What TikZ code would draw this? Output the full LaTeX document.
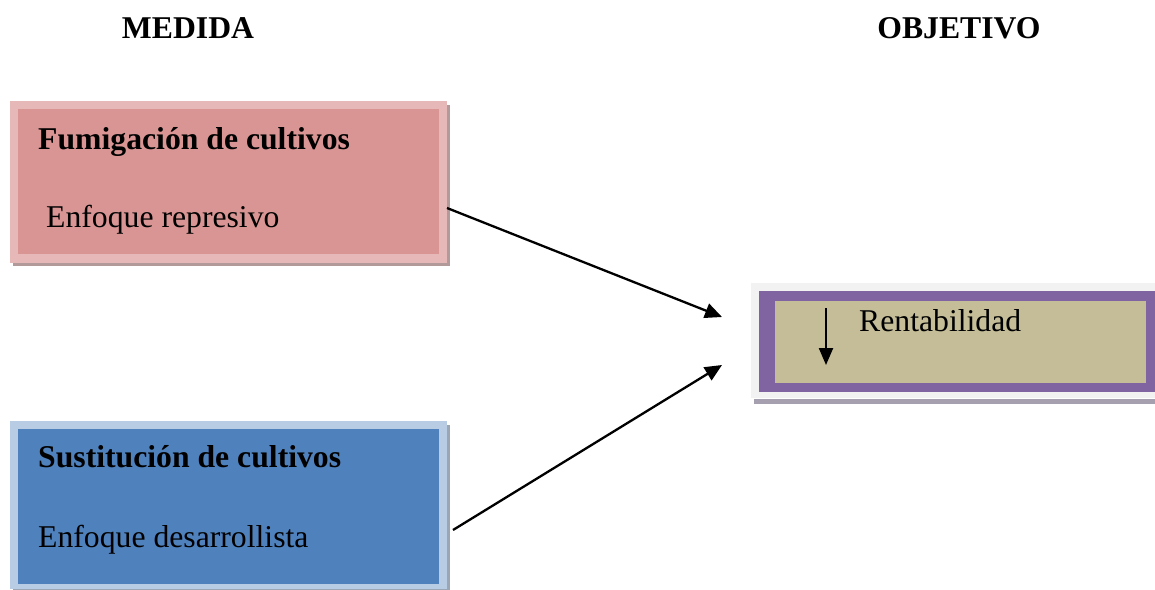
\documentclass[tikz,border=0pt]{standalone}
\usepackage{fontspec}
\setmainfont{Liberation Serif}
\usetikzlibrary{arrows.meta}
\definecolor{pinkout}{HTML}{E6B8B7}
\definecolor{pinkin}{HTML}{D99594}
\definecolor{pinkshadow}{HTML}{B39A9A}
\definecolor{blueout}{HTML}{B8CCE4}
\definecolor{bluein}{HTML}{4F81BD}
\definecolor{blueshadow}{HTML}{9AA6B4}
\definecolor{grayframe}{HTML}{F2F2F2}
\definecolor{purpleframe}{HTML}{8064A2}
\definecolor{tanfill}{HTML}{C4BD97}
\definecolor{purpleshadow}{HTML}{A59FB0}
\tikzset{
  txt/.style={font=\fontsize{31.7}{36}\selectfont, anchor=base west, inner sep=0pt},
  btxt/.style={txt, font=\fontsize{31.7}{36}\selectfont\bfseries},
  ttl/.style={font=\fontsize{31.7}{36}\selectfont\bfseries, anchor=base, inner sep=0pt},
  conn/.style={line width=2.3pt, -{Triangle[length=17pt,width=15pt]}},
}
\begin{document}
\begin{tikzpicture}[x=1pt,y=-1pt]
\useasboundingbox (0,0) rectangle (1155,589);
% titles
\node[ttl] (t1) at (188,38) {MEDIDA};
\node[ttl] (t2) at (959,38) {OBJETIVO};
% pink box
\fill[pinkshadow] (13,105) rectangle (450,266);
\fill[pinkout] (10,101) rectangle (447,263);
\fill[pinkin] (18,109) rectangle (439,254);
\coordinate (pinkE) at (447,208);
\node[btxt] (f1) at (38,149) {Fumigación de cultivos};
\node[txt] (f2) at (46,227) {Enfoque represivo};
% blue box
\fill[blueshadow] (13,425) rectangle (450,592);
\fill[blueout] (10,421) rectangle (447,589);
\fill[bluein] (18,429) rectangle (439,584);
\coordinate (blueE) at (453,530);
\node[btxt] (s1) at (38,467) {Sustitución de cultivos};
\node[txt] (s2) at (38,547) {Enfoque desarrollista};
% right box
\fill[purpleshadow] (754,399) rectangle (1155,404);
\fill[grayframe] (751,283) rectangle (1155,398);
\fill[purpleframe] (759,291) rectangle (1155,392);
\fill[tanfill] (775,301) rectangle (1146,383);
\node[txt] (r1) at (859,331) {Rentabilidad};
\coordinate (downA) at (826,308);
\coordinate (downB) at (826,365);
\draw[line width=2.2pt, -{Triangle[length=17pt,width=14pt]}] (downA) -- (downB);
% connectors
\coordinate (tgt1) at (722,317);
\coordinate (tgt2) at (722,365);
\draw[conn] (pinkE) -- (tgt1);
\draw[conn] (blueE) -- (tgt2);
\end{tikzpicture}
\end{document}
